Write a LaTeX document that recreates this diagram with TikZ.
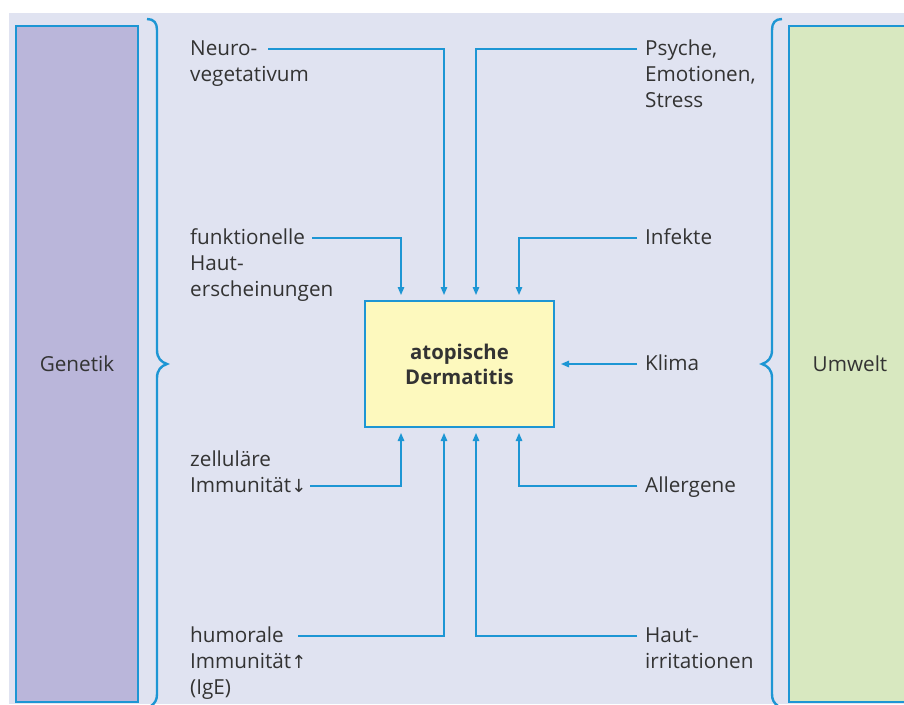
\documentclass[tikz,border=0pt]{standalone}
\usepackage{fontspec}
\setmainfont{Open Sans}
\newfontfamily\arrowfont{DejaVu Sans}
\usetikzlibrary{arrows.meta}
\definecolor{bgc}{HTML}{E0E3F1}
\definecolor{purp}{HTML}{BAB6DA}
\definecolor{grn}{HTML}{D8E8C0}
\definecolor{yel}{HTML}{FDF9BE}
\definecolor{lblue}{HTML}{1D96D4}
\definecolor{txt}{HTML}{333333}
\tikzset{
  lbl/.style={anchor=north west, inner sep=0pt, align=left, text=txt,
    font=\fontsize{20.7}{26}\selectfont},
  arr/.style={draw=lblue, line width=1.4pt, -{Triangle[length=8pt,width=6.5pt]}},
  brc/.style={draw=lblue, line width=2.4pt},
  sidebox/.style={draw=lblue, line width=1.8pt},
}
\begin{document}
\begin{tikzpicture}[x=1pt,y=-1pt]
\useasboundingbox (0,0) rectangle (904,704);
\fill[bgc] (9,13) rectangle (904,704);
\begin{scope}
\clip (0,0) rectangle (904,704);
\draw[sidebox, fill=purp] (16,26) rectangle (138,702);
\draw[sidebox, fill=grn] (789,26) rectangle (920,702);
\draw[brc] (147,19) .. controls (154,19) and (157,23) .. (157,30) -- (157,350)
  .. controls (157,358) and (161,362) .. (167,364)
  .. controls (161,366) and (157,370) .. (157,378) -- (157,694)
  .. controls (157,700) and (155,703) .. (151,706);
\draw[brc] (782,19) .. controls (775,19) and (772,23) .. (772,30) -- (772,350)
  .. controls (772,358) and (768,362) .. (762,364)
  .. controls (768,366) and (772,370) .. (772,378) -- (772,694)
  .. controls (772,700) and (774,703) .. (778,706);
\end{scope}
\node[text=txt, font=\fontsize{20.7}{26}\selectfont] (gen) at (77,364) {Genetik};
\node[text=txt, font=\fontsize{20.7}{26}\selectfont] (umw) at (850,364) {Umwelt};
\node[draw=lblue, line width=1.8pt, fill=yel, minimum width=189pt, minimum height=126pt,
  align=center, text=txt, font=\fontsize{20.3}{25}\selectfont\bfseries] (box) at (459.5,364) {atopische\\Dermatitis};
% labels
\node[lbl] (neuro) at (190,37) {\strut Neuro-\\vegetativum};
\node[lbl] (funk) at (190,226) {\strut funktionelle\\Haut-\\erscheinungen};
\node[lbl] (zell) at (190,448) {\strut zelluläre\\Immunität{\arrowfont\fontsize{18}{26}\selectfont ↓}};
\node[lbl] (humo) at (190,624) {\strut humorale\\Immunität{\arrowfont\fontsize{18}{26}\selectfont ↑}\\(IgE)};
\node[lbl] (psy) at (645,37) {\strut Psyche,\\Emotionen,\\Stress};
\node[lbl] (inf) at (645,226) {\strut Infekte};
\node[lbl] (kli) at (645,352) {\strut Klima};
\node[lbl] (all) at (645,474) {\strut Allergene};
\node[lbl] (haut) at (645,624) {\strut Haut-\\irritationen};
% connector points
\coordinate (neuroS) at (268,49);  \coordinate (neuroT) at (444,295);
\coordinate (psyS) at (637,49);    \coordinate (psyT) at (476,295);
\coordinate (funkS) at (312,238);  \coordinate (funkT) at (401,295);
\coordinate (infS) at (637,238);   \coordinate (infT) at (519,295);
\coordinate (kliS) at (637,364);   \coordinate (kliT) at (561,364);
\coordinate (zellS) at (310,486);  \coordinate (zellT) at (401,433);
\coordinate (allS) at (637,486);   \coordinate (allT) at (519,433);
\coordinate (humoS) at (298,636);  \coordinate (humoT) at (444,433);
\coordinate (hautS) at (637,636);  \coordinate (hautT) at (476,433);
\draw[arr] (neuroS) -| (neuroT);
\draw[arr] (psyS) -| (psyT);
\draw[arr] (funkS) -| (funkT);
\draw[arr] (infS) -| (infT);
\draw[arr] (kliS) -- (kliT);
\draw[arr] (zellS) -| (zellT);
\draw[arr] (allS) -| (allT);
\draw[arr] (humoS) -| (humoT);
\draw[arr] (hautS) -| (hautT);
\end{tikzpicture}
\end{document}
